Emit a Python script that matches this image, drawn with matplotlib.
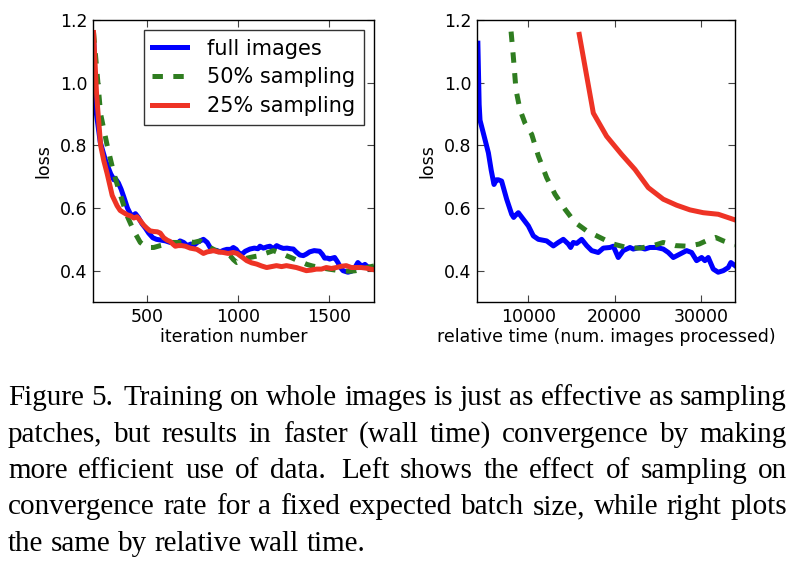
import matplotlib
matplotlib.use('Agg')
from matplotlib import pyplot as plt

# Left panel: loss vs iteration number
left_it_full = [205, 212, 240, 270, 297, 315, 322, 340, 355, 370, 390, 407, 420, 434, 450, 470, 490, 507,
                530, 550, 571, 600, 626, 645, 663, 680, 700, 720, 740, 754, 775, 791, 809, 830, 850, 864,
                880, 901, 920, 938, 960, 974, 990, 1002, 1020, 1040, 1066, 1090, 1110, 1121, 1140, 1160,
                1176, 1195, 1213, 1230, 1250, 1270, 1290, 1305, 1320, 1341, 1360, 1377, 1395, 1420, 1450,
                1465, 1478, 1495, 1505, 1520, 1533, 1551, 1565, 1579, 1606, 1625, 1640, 1661, 1675, 1689,
                1700, 1715, 1730, 1750]
left_loss_full = [1.12, 0.93, 0.81, 0.75, 0.71, 0.69, 0.695, 0.68, 0.66, 0.635, 0.60, 0.58, 0.575, 0.582,
                  0.57, 0.55, 0.535, 0.52, 0.505, 0.50, 0.498, 0.495, 0.49, 0.49, 0.485, 0.495, 0.49, 0.48,
                  0.485, 0.48, 0.49, 0.495, 0.50, 0.49, 0.47, 0.464, 0.465, 0.46, 0.465, 0.468, 0.468,
                  0.474, 0.468, 0.458, 0.452, 0.462, 0.469, 0.472, 0.47, 0.478, 0.472, 0.476, 0.478, 0.47,
                  0.48, 0.475, 0.471, 0.472, 0.47, 0.469, 0.46, 0.45, 0.448, 0.453, 0.46, 0.464, 0.462,
                  0.452, 0.44, 0.44, 0.437, 0.44, 0.442, 0.426, 0.41, 0.40, 0.395, 0.398, 0.405, 0.426,
                  0.418, 0.416, 0.42, 0.412, 0.41, 0.405]

left_it_50 = [203, 242, 278, 315, 352, 388, 425, 461, 498, 535, 571, 608, 645, 680, 718, 755, 791, 820,
              846, 875, 901, 930, 956, 975, 993, 1010, 1029, 1050, 1066, 1090, 1121, 1150, 1176, 1195,
              1212, 1240, 1270, 1300, 1330, 1360, 1380, 1410, 1452, 1500, 1560, 1618, 1650, 1680, 1710, 1750]
left_loss_50 = [1.16, 0.90, 0.80, 0.71, 0.64, 0.575, 0.527, 0.49, 0.474, 0.474, 0.48, 0.485, 0.49, 0.49,
                0.495, 0.49, 0.495, 0.485, 0.474, 0.465, 0.458, 0.455, 0.448, 0.435, 0.426, 0.43, 0.437,
                0.44, 0.442, 0.445, 0.448, 0.455, 0.46, 0.464, 0.46, 0.455, 0.447, 0.44, 0.432, 0.425,
                0.42, 0.415, 0.41, 0.405, 0.40, 0.398, 0.40, 0.405, 0.41, 0.415]

left_it_25 = [203, 220, 242, 260, 278, 306, 333, 350, 370, 390, 407, 425, 443, 460, 480, 498, 515, 535,
              555, 571, 590, 610, 626, 640, 654, 670, 690, 710, 736, 755, 773, 790, 809, 830, 850, 864,
              890, 919, 945, 974, 995, 1011, 1030, 1048, 1075, 1103, 1130, 1158, 1185, 1212, 1240, 1267,
              1295, 1322, 1350, 1377, 1405, 1432, 1460, 1487, 1515, 1542, 1570, 1597, 1625, 1652, 1680,
              1707, 1730, 1750]
left_loss_25 = [1.16, 0.96, 0.80, 0.75, 0.71, 0.64, 0.607, 0.592, 0.585, 0.578, 0.575, 0.568, 0.572,
                0.56, 0.545, 0.535, 0.527, 0.525, 0.524, 0.52, 0.505, 0.497, 0.493, 0.485, 0.478, 0.48,
                0.48, 0.478, 0.472, 0.47, 0.468, 0.462, 0.455, 0.46, 0.462, 0.464, 0.46, 0.458, 0.455,
                0.458, 0.455, 0.448, 0.44, 0.432, 0.425, 0.421, 0.415, 0.41, 0.413, 0.416, 0.413, 0.416,
                0.413, 0.41, 0.405, 0.40, 0.402, 0.405, 0.405, 0.41, 0.407, 0.41, 0.414, 0.416, 0.41,
                0.41, 0.41, 0.408, 0.405, 0.403]

# Right panel: loss vs relative time (images processed)
right_t_full = [4150, 4300, 4400, 4980, 5370, 5700, 6020, 6300, 6525, 6900, 7490, 8070, 8300, 8455, 8840,
                9420, 10000, 10580, 11160, 12120, 12900, 13470, 14050, 14630, 14900, 15210, 15600, 16180,
                16760, 17340, 18100, 18690, 19460, 19850, 20420, 21000, 21780, 22160, 22930, 23510, 24090,
                24860, 25640, 26220, 26800, 27570, 28340, 28920, 29500, 30080, 30460, 30850, 31430, 32000,
                32590, 33170, 33470, 33950]
right_loss_full = [1.126, 0.93, 0.88, 0.818, 0.776, 0.72, 0.675, 0.69, 0.69, 0.686, 0.628, 0.58, 0.57,
                   0.575, 0.585, 0.564, 0.543, 0.511, 0.50, 0.495, 0.479, 0.49, 0.50, 0.485, 0.474, 0.49,
                   0.487, 0.50, 0.48, 0.464, 0.458, 0.472, 0.474, 0.478, 0.442, 0.464, 0.474, 0.469,
                   0.474, 0.469, 0.474, 0.474, 0.469, 0.458, 0.442, 0.453, 0.464, 0.458, 0.432, 0.442,
                   0.432, 0.442, 0.405, 0.395, 0.40, 0.41, 0.426, 0.416]

right_t_50 = [8000, 8260, 8570, 9030, 9610, 10390, 11160, 12120, 13090, 14250, 15410, 16760, 18300, 19850,
              21390, 22930, 24480, 25640, 27000, 28500, 29800, 31000, 31700, 32600, 33950]
right_loss_50 = [1.163, 1.083, 0.977, 0.914, 0.871, 0.835, 0.766, 0.697, 0.644, 0.596, 0.554, 0.527,
                 0.506, 0.485, 0.474, 0.472, 0.48, 0.49, 0.48, 0.478, 0.485, 0.50, 0.506, 0.495, 0.482]

right_t_25 = [15900, 17530, 19070, 20810, 22360, 23900, 25640, 27180, 28730, 30270, 32010, 33950]
right_loss_25 = [1.154, 0.903, 0.829, 0.771, 0.723, 0.665, 0.628, 0.609, 0.594, 0.585, 0.58, 0.562]

labels = ['full images', '50% sampling', '25% sampling']
blue = '#0000ff'
green = '#2f7d20'
red = '#ee3325'
lw = 3.6
dash = (7.5, 7.5)

caption = ["Figure 5.  Training on whole images is just as effective as sampling",
           "patches, but results in faster (wall time) convergence by making",
           "more efficient use of data.  Left shows the effect of sampling on",
           "convergence rate for a fixed expected batch size, while right plots",
           "the same by relative wall time."]

plt.rcParams['font.family'] = 'DejaVu Sans'
plt.rcParams['lines.scale_dashes'] = False

W, H = 802, 564
fig = plt.figure(figsize=(W / 100, H / 100), dpi=100)

ax1 = fig.add_axes([93 / W, 1 - 302 / H, 281 / W, 282 / H])
ax2 = fig.add_axes([477 / W, 1 - 302 / H, 258 / W, 282 / H])

ax1.plot(left_it_full, left_loss_full, color=blue, lw=lw, label=labels[0])
ax1.plot(left_it_50, left_loss_50, color=green, lw=lw, ls='--', dashes=dash, label=labels[1])
ax1.plot(left_it_25, left_loss_25, color=red, lw=lw, label=labels[2])

ax2.plot(right_t_full, right_loss_full, color=blue, lw=lw)
ax2.plot(right_t_50, right_loss_50, color=green, lw=lw, ls='--', dashes=dash)
ax2.plot(right_t_25, right_loss_25, color=red, lw=lw)

ax1.set_xlim(200, 1750)
ax1.set_xticks([500, 1000, 1500])
ax1.set_xlabel('iteration number', fontsize=12.5, labelpad=2)
ax2.set_xlim(4050, 33950)
ax2.set_xticks([10000, 20000, 30000])
ax2.set_xlabel('relative time (num. images processed)', fontsize=12.5, labelpad=2)

for ax in (ax1, ax2):
    ax.set_ylim(0.3, 1.2)
    ax.set_yticks([0.4, 0.6, 0.8, 1.0, 1.2])
    ax.set_ylabel('loss', fontsize=12.5, labelpad=5)
    ax.tick_params(direction='in', top=True, right=True, length=5, width=0.8,
                   color='#444444', labelsize=12.5, pad=4)
    for s in ax.spines.values():
        s.set_linewidth(1.0)

leg = ax1.legend(loc='upper right', fontsize=15, fancybox=False, frameon=True,
                 handlelength=1.7, handletextpad=0.95, borderaxespad=0.5,
                 borderpad=0.4, labelspacing=0.42)
leg.get_frame().set_edgecolor('black')
leg.get_frame().set_linewidth(1.0)

# Caption, justified between the page margins
r = fig.canvas.get_renderer()
x0, x1 = 8, 787
baselines = [405, 441.5, 478, 514.5, 551]
for i, line in enumerate(caption):
    words = line.split()
    texts = [fig.text(0, 1 - baselines[i] / H, w, fontsize=21, family='Liberation Serif',
                      va='baseline', ha='left') for w in words]
    widths = [t.get_window_extent(r).width for t in texts]
    # a sentence end gets a wider gap, as in TeX
    weights = [1.5 if w.endswith('.') else 1.0 for w in words[:-1]]
    if i < len(caption) - 1:
        unit = (x1 - x0 - sum(widths)) / sum(weights)
    else:
        unit = 21 * 100 / 72 * 0.25
    x = x0
    for j, (t, w) in enumerate(zip(texts, widths)):
        t.set_x(x / W)
        if j < len(weights):
            x += w + unit * weights[j]

fig.savefig('out.png', dpi=100)
